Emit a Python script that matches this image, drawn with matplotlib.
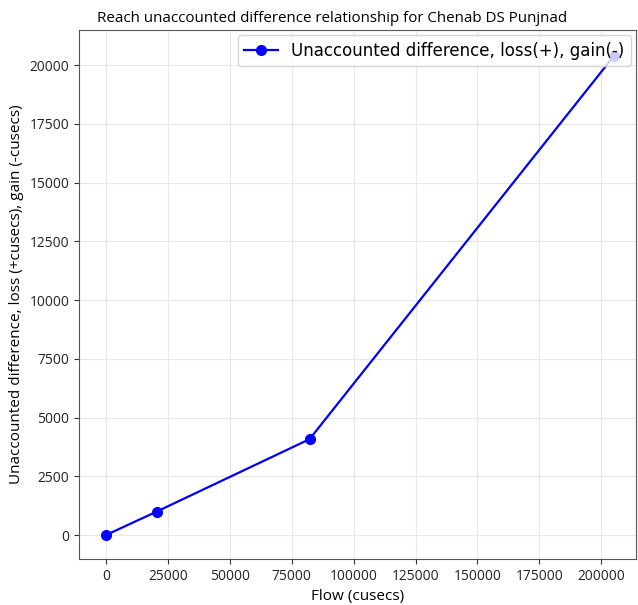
import matplotlib
matplotlib.use("Agg")
import matplotlib.pyplot as plt

flow = [0, 20500, 82200, 205200]
diff = [0, 1000, 4080, 20400]
label = "Unaccounted difference, loss(+), gain(-)"

plt.rcParams['font.family'] = ['Open Sans', 'DejaVu Sans']

fig = plt.figure(figsize=(6.38, 6.05), dpi=100)
ax = fig.add_axes([0.1238, 0.076, 0.873, 0.8744])
ax.plot(flow, diff, color='blue', marker='o', markersize=7, linewidth=1.6, label=label)
ax.set_xlim(-10900, 214000)
ax.set_ylim(-1020, 21490)
ax.set_xticks([0, 25000, 50000, 75000, 100000, 125000, 150000, 175000, 200000])
ax.set_yticks([0, 2500, 5000, 7500, 10000, 12500, 15000, 17500, 20000])
ax.grid(True, color='#e8e8e8', linewidth=0.8)
ax.set_axisbelow(True)
for s in ax.spines.values():
    s.set_color('#555555')
ax.tick_params(labelsize=9.9, colors='#333333', labelcolor='#222222')
ax.set_xlabel("Flow (cusecs)", fontsize=11)
ax.set_ylabel("Unaccounted difference, loss (+cusecs), gain (-cusecs)", fontsize=11)
ax.set_title("Reach unaccounted difference relationship for Chenab DS Punjnad",
             fontsize=10.9, x=0.454)
ax.legend(loc='upper right', prop={'family': 'DejaVu Sans', 'size': 12},
          borderaxespad=0.3)
fig.savefig("out.png", dpi=100)
